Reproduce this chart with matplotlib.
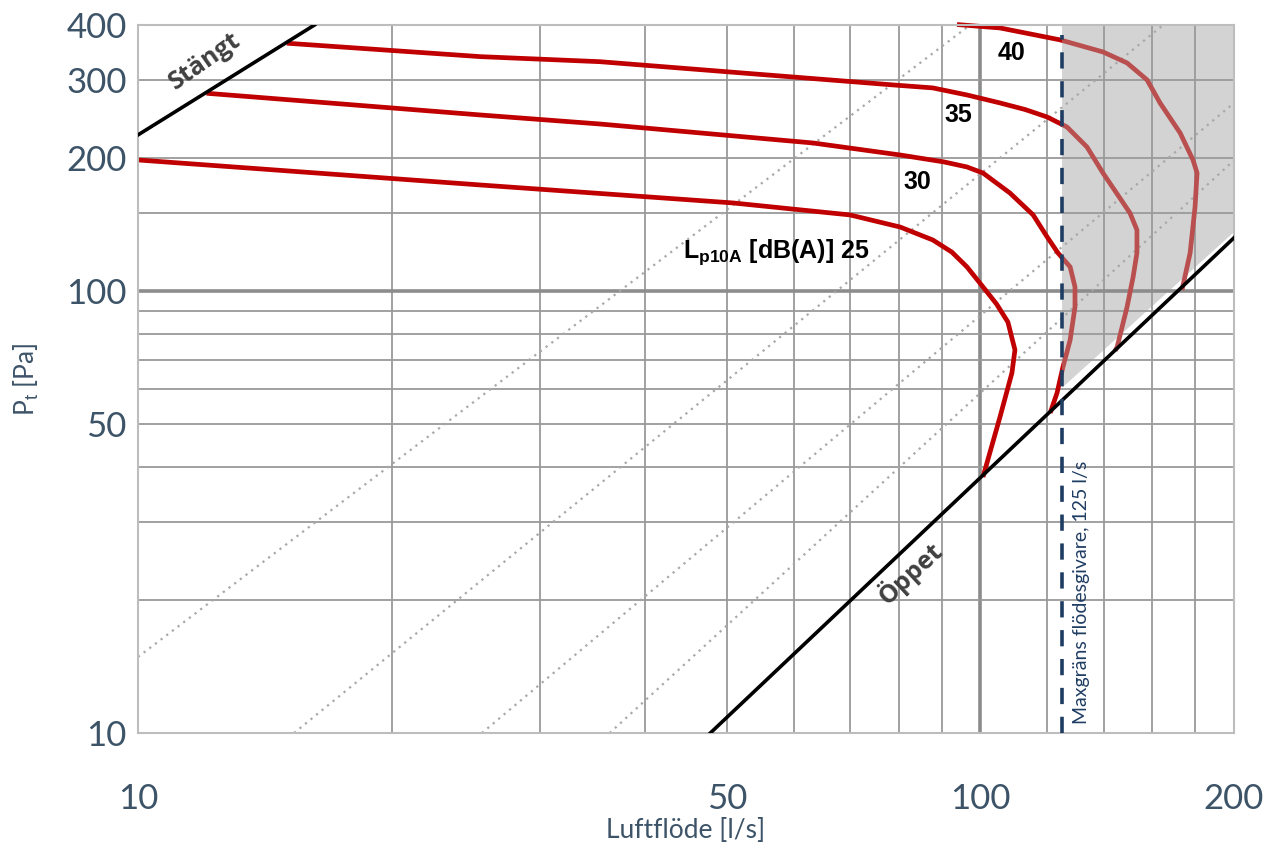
import matplotlib
matplotlib.use("Agg")
import matplotlib.pyplot as plt
import numpy as np
from matplotlib.patches import Rectangle

plt.rcParams['mathtext.fontset'] = 'custom'
plt.rcParams['mathtext.rm'] = 'Liberation Sans'
plt.rcParams['mathtext.bf'] = 'Liberation Sans:bold'

# sound level curves, Lp10A [dB(A)]  (flow l/s, pressure Pa)
q25 = [10, 25.5, 50.8, 70.0, 80.3, 87.8, 92.5, 96.4, 100.7, 104.5, 107.8, 109.9, 109.0, 105.5, 100.7]
p25 = [198, 173.8, 158.3, 148.7, 139.6, 130.5, 122.5, 113.4, 102.2, 93.5, 85.1, 73.6, 65.3, 51.9, 37.95]

q30 = [12.06, 25.5, 35.35, 63.3, 80.3, 90.5, 96.4, 100.7, 108.4, 115.5, 120.0, 123.6, 127.8, 129.5, 129.5, 127.8, 125.3, 123.3, 121]
p30 = [280.3, 250.3, 238.8, 216.3, 203.2, 196.0, 190.9, 185.0, 166.7, 148.7, 132.6, 122.0, 113.4, 102.2, 92.0, 77.5, 67.3, 58.8, 53.0]

q35 = [15.02, 25.5, 35.35, 78.8, 87.8, 96.4, 105.5, 113.0, 120.0, 126.7, 133.8, 139.8, 150.5, 153.4, 153.4, 151.8, 149.3, 145.3, 144.5]
p35 = [363.8, 339.2, 330.4, 292.7, 288.2, 277.8, 266.5, 257.5, 247.7, 235.1, 211.9, 185.0, 150.2, 137.5, 122.0, 107.6, 92.0, 74.7, 73.3]

q40 = [93.8, 105.5, 124.3, 139.8, 149.3, 157.7, 163.4, 172.6, 178.8, 180.8, 179.8, 177.4, 173.5]
p40 = [401, 393.9, 370.2, 347.6, 328.3, 300.5, 266.5, 228.0, 198.0, 185.0, 155.0, 122.0, 100.6]

curves = [(q25, p25), (q30, p30), (q35, p35), (q40, p40)]

# damper limits
q_closed = [10, 16.2]
p_closed = [225.6, 400]
q_open = [47.8, 200]
p_open = [10, 132]

# dotted system lines
sys_q = [[10, 97.2], [15.32, 164.8], [25.6, 200], [36.3, 200]]
sys_p = [[14.86, 400], [10, 400], [10, 266.5], [10, 197.7]]

# area above sensor max
q_max = 125
area_q = [125, 200, 200, 125]
area_p = [400, 400, 136, 60.4]

xgrid = [20, 30, 40, 50, 60, 70, 80, 90, 100, 120, 140, 160, 180]
ygrid = [20, 30, 40, 50, 60, 70, 80, 90, 100, 150, 200, 300]
xticks = [10, 50, 100, 200]
yticks = [10, 50, 100, 200, 300, 400]

RED = '#c00000'
RED_MUTED = '#b94f4f'
TXT = '#3d5468'

fig = plt.figure(figsize=(12.7, 8.5), dpi=100)
ax = fig.add_axes([138 / 1270, 1 - 733 / 850, (1234 - 138) / 1270, (733 - 25) / 850])
ax.set_xscale('log')
ax.set_yscale('log')
ax.set_xlim(10, 200)
ax.set_ylim(10, 400)

ax.fill(area_q, area_p, color='#d3d3d3', lw=0, zorder=0.5)

for v in xgrid:
  ax.axvline(v, color='#8c8c8c' if v == 100 else '#9a9a9a', lw=2.6 if v == 100 else 1.3, zorder=1)
for v in ygrid:
  ax.axhline(v, color='#8c8c8c' if v == 100 else '#9a9a9a', lw=2.6 if v == 100 else 1.3, zorder=1)

for q, p in zip(sys_q, sys_p):
  ax.plot(q, p, color='#a8a8a8', lw=1.6, ls=(0, (1, 2.2)), zorder=1.5)

ax.plot(q_closed, p_closed, color='black', lw=2.6, zorder=3)
ax.plot(q_open, p_open, color='black', lw=2.6, zorder=3)

left_clip = Rectangle((1, 1), q_max - 1, 1000, transform=ax.transData)
right_clip = Rectangle((q_max, 1), 1000, 1000, transform=ax.transData)
for q, p in curves:
  l1, = ax.plot(q, p, color=RED, lw=3.4, zorder=2.5, solid_joinstyle='round', solid_capstyle='butt')
  l1.set_clip_path(left_clip)
  l2, = ax.plot(q, p, color=RED_MUTED, lw=3.4, zorder=2.5, solid_joinstyle='round', solid_capstyle='butt')
  l2.set_clip_path(right_clip)

ax.plot([q_max, q_max], [10, 380], color='#1f3d63', lw=2.6, ls=(0, (4.5, 3.5)), zorder=4)

lab_kw = dict(fontsize=18, fontweight='bold', family='Liberation Sans', ha='center', va='center', zorder=5)
ax.text(109.0, 345.8, '40', **lab_kw)
ax.text(94.1, 250.3, '35', **lab_kw)
ax.text(84.1, 176.6, '30', **lab_kw)
ax.text(44.4, 122.6, r'L$_{\mathbf{p10A}}$ [dB(A)] 25', fontsize=18, fontweight='bold',
        family='Liberation Sans', ha='left', va='center', zorder=5)
ax.text(12.0, 330, 'Stängt', fontsize=18, fontweight='bold', family='Open Sans', color='#404040',
        rotation=35, ha='center', va='center', zorder=5)
ax.text(82.5, 23.0, 'Öppet', fontsize=18, fontweight='bold', family='Open Sans', color='#404040',
        rotation=43, ha='center', va='center', zorder=5)
ax.text(131.8, 10.5, 'Maxgräns flödesgivare, 125 l/s', fontsize=14, family='Lato', color='#1f3d63',
        rotation=90, ha='center', va='bottom', zorder=5)

ax.set_xticks(xticks)
ax.set_xticklabels([str(t) for t in xticks])
ax.set_yticks(yticks)
ax.set_yticklabels([str(t) for t in yticks])
ax.minorticks_off()
ax.tick_params(axis='both', length=0, labelsize=25, labelcolor=TXT)
ax.tick_params(axis='x', pad=36)
ax.tick_params(axis='y', pad=8)
for lab in ax.get_xticklabels() + ax.get_yticklabels():
  lab.set_family('Lato')

ax.set_xlabel('Luftflöde [l/s]', fontsize=19, family='Lato', color=TXT, labelpad=2)
ax.set_ylabel(r'P$_\mathrm{t}$ [Pa]', fontsize=19, family='Lato', color=TXT, labelpad=18)

for s in ax.spines.values():
  s.set_color('#bdbdbd')
  s.set_linewidth(1.5)

fig.savefig('out.png', dpi=100)
